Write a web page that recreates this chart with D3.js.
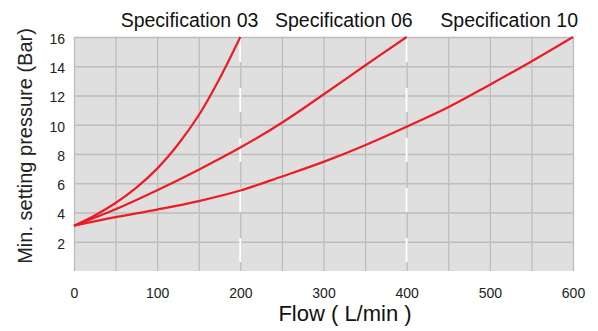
<!DOCTYPE html>
<html>
<head>
<meta charset="utf-8">
<script src="https://cdn.jsdelivr.net/npm/d3@7"></script>
<style>
  body { margin: 0; background: #fff; }
  svg { display: block; font-family: Arial, "Liberation Sans", Helvetica, sans-serif; }
  .grid line { stroke: #bdbdbd; stroke-width: 1.3; }
  .grid path { display: none; }
  .tick-labels path, .tick-labels line { display: none; }
  .tick-labels text { fill: #222; }
  .curve { fill: none; stroke: #ec1c24; stroke-width: 2.2; }
</style>
</head>
<body>
<svg id="chart" width="598" height="331"></svg>
<script>
const flow03 = [0, 25, 50, 75, 100, 125, 150, 175, 200];
const pressure03 = [3.1, 3.8, 4.65, 5.7, 7.0, 8.65, 10.65, 13.15, 16];

const flow06 = [0, 50, 100, 150, 200, 250, 300, 350, 400];
const pressure06 = [3.1, 4.22, 5.52, 6.93, 8.44, 10.14, 12.07, 14.05, 16];

const flow10 = [0, 50, 100, 150, 200, 250, 300, 350, 400, 450, 500, 550, 600];
const pressure10 = [3.1, 3.68, 4.2, 4.78, 5.5, 6.46, 7.46, 8.6, 9.87, 11.2, 12.74, 14.33, 16];

const seriesNames = ['Specification 03', 'Specification 06', 'Specification 10'];
const seriesMaxFlow = [200, 400, 600];

const xTicks = [0, 100, 200, 300, 400, 500, 600];
const yTicks = [2, 4, 6, 8, 10, 12, 14, 16];

const series = [
  { name: seriesNames[0], flow: flow03, pressure: pressure03 },
  { name: seriesNames[1], flow: flow06, pressure: pressure06 },
  { name: seriesNames[2], flow: flow10, pressure: pressure10 },
];

const fontFamily = 'Arial, "Liberation Sans", Helvetica, sans-serif';

const svg = d3.select('#chart');
const margin = { top: 37, right: 25, bottom: 60, left: 74 };
const width = 598;
const height = 331;
const innerWidth = width - margin.left - margin.right;
const innerHeight = height - margin.top - margin.bottom;

const xScale = d3.scaleLinear().domain([0, 600]).range([0, innerWidth]);
const yScale = d3.scaleLinear().domain([0, 16]).range([innerHeight, 0]);

const grp = svg
  .append('g')
  .attr('transform', 'translate(' + margin.left + ',' + margin.top + ')');

grp
  .append('rect')
  .attr('width', innerWidth)
  .attr('height', innerHeight)
  .attr('fill', '#dfdfdf');

// grid every 50 L/min and every 2 bar
grp
  .append('g')
  .attr('class', 'grid')
  .call(d3.axisBottom(xScale).tickValues(d3.range(0, 601, 50)).tickSize(innerHeight).tickFormat(''));

grp
  .append('g')
  .attr('class', 'grid')
  .call(d3.axisLeft(yScale).tickValues(d3.range(2, 17, 2)).tickSize(-innerWidth).tickFormat(''));

// white dashed separators
grp
  .selectAll('.sep')
  .data(seriesMaxFlow.slice(0, 2))
  .enter()
  .append('line')
  .attr('class', 'sep')
  .attr('x1', (d) => xScale(d))
  .attr('x2', (d) => xScale(d))
  .attr('y1', 1)
  .attr('y2', innerHeight - 8)
  .attr('stroke', '#fff')
  .attr('stroke-width', 2)
  .attr('stroke-dasharray', '24,26');

const line = d3
  .line()
  .x((d) => xScale(d[0]))
  .y((d) => yScale(d[1]))
  .curve(d3.curveCatmullRom.alpha(0.5));

grp
  .selectAll('.curve')
  .data(series)
  .enter()
  .append('path')
  .attr('class', 'curve')
  .attr('d', (s) => line(s.flow.map((f, i) => [f, s.pressure[i]])));

// tick labels
grp
  .append('g')
  .attr('class', 'tick-labels')
  .attr('transform', 'translate(0,' + innerHeight + ')')
  .call(d3.axisBottom(xScale).tickValues(xTicks).tickSize(0).tickPadding(17).tickFormat(d3.format('d')))
  .attr('font-family', fontFamily)
  .attr('font-size', 14);

grp
  .append('g')
  .attr('class', 'tick-labels')
  .call(d3.axisLeft(yScale).tickValues(yTicks).tickSize(0).tickPadding(9).tickFormat(d3.format('d')))
  .attr('font-family', fontFamily)
  .attr('font-size', 14)
  .selectAll('text')
  .attr('dy', '0.45em');

// series labels above the plot
const labelOffset = [18, 6, 5];
grp
  .selectAll('.spec-label')
  .data(series)
  .enter()
  .append('text')
  .attr('class', 'spec-label')
  .attr('x', (d, i) => xScale(seriesMaxFlow[i]) + labelOffset[i])
  .attr('y', -10)
  .attr('text-anchor', 'end')
  .attr('font-family', fontFamily)
  .attr('font-size', 19.5)
  .attr('fill', '#111')
  .text((d) => d.name);

// axis titles
svg
  .append('text')
  .attr('x', 345)
  .attr('y', 321)
  .attr('text-anchor', 'middle')
  .attr('font-family', fontFamily)
  .attr('font-size', 22)
  .attr('fill', '#111')
  .text('Flow ( L/min )');

svg
  .append('text')
  .attr('transform', 'translate(32,146) rotate(-90)')
  .attr('text-anchor', 'middle')
  .attr('font-family', fontFamily)
  .attr('font-size', 20)
  .attr('fill', '#222')
  .text('Min. setting pressure (Bar)');
</script>
</body>
</html>
